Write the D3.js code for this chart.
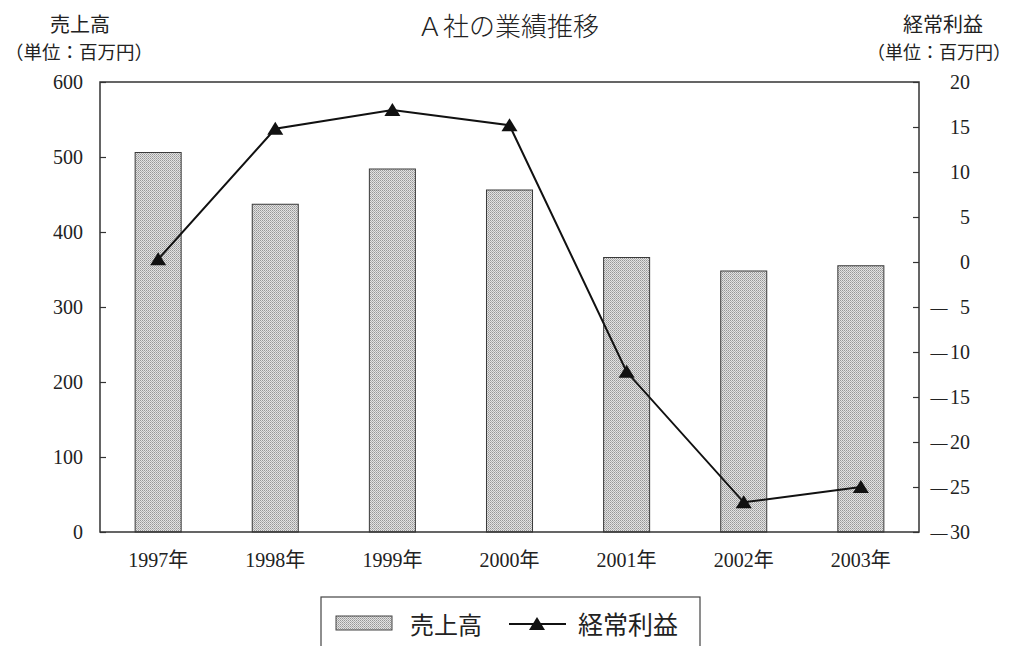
<!DOCTYPE html>
<html>
<head>
<meta charset="utf-8">
<script src="https://cdn.jsdelivr.net/npm/d3@7"></script>
<style>
  html, body { margin: 0; padding: 0; background: #fff; }
  svg text { fill: #222; }
</style>
</head>
<body>
<svg id="chart" width="1015" height="646"></svg>
<script>
// Ａ社の売上高（棒）と経常利益（折れ線）, 1997–2003
const years = ["1997年", "1998年", "1999年", "2000年", "2001年", "2002年", "2003年"];
const sales = [506, 437, 484, 456, 366, 348, 355];          // 売上高（百万円）
const profit = [0.3, 14.8, 16.9, 15.2, -12.2, -26.7, -25.0]; // 経常利益（百万円）
const salesTicks = [0, 100, 200, 300, 400, 500, 600];
const profitTicks = [20, 15, 10, 5, 0, -5, -10, -15, -20, -25, -30];

const serif = "'Liberation Serif', 'Noto Sans CJK JP', serif";
const jp = "'Noto Sans CJK JP', 'Liberation Serif', sans-serif";

const svg = d3.select("#chart");
const plot = { left: 100, right: 919, top: 82, bottom: 532 };

// stippled fill for the bars
const defs = svg.append("defs");
const pat = defs.append("pattern")
  .attr("id", "stipple").attr("patternUnits", "userSpaceOnUse")
  .attr("width", 2).attr("height", 2);
pat.append("rect").attr("width", 2).attr("height", 2).attr("fill", "#e2e2e2");
pat.append("rect").attr("width", 1).attr("height", 1).attr("fill", "#969696");
pat.append("rect").attr("x", 1).attr("y", 1).attr("width", 1).attr("height", 1).attr("fill", "#b0b0b0");

const x = d3.scaleBand().domain(years)
  .range([plot.left, plot.right]).paddingInner(0.607).paddingOuter(0.3);
const yL = d3.scaleLinear().domain([0, 600]).range([plot.bottom, plot.top]);
const yR = d3.scaleLinear().domain([-30, 20]).range([plot.bottom, plot.top]);

// bars
svg.append("g").selectAll("rect").data(sales).join("rect")
  .attr("x", (d, i) => x(years[i]))
  .attr("y", d => yL(d))
  .attr("width", x.bandwidth())
  .attr("height", d => yL(0) - yL(d))
  .attr("fill", "url(#stipple)")
  .attr("stroke", "#3a3a3a").attr("stroke-width", 1);

// plot frame: left, bottom and right axis lines
const frame = svg.append("g").attr("stroke", "#333").attr("stroke-width", 1.5).attr("fill", "none");
frame.append("path").attr("d",
  `M${plot.left},${plot.top}H${plot.right}V${plot.bottom}H${plot.left}Z`);

// left axis (ticks inside)
const axL = d3.axisRight(yL).tickValues(salesTicks).tickSize(6).tickFormat("");
svg.append("g").attr("transform", `translate(${plot.left},0)`).call(axL)
  .call(g => g.select(".domain").remove())
  .selectAll("line").attr("stroke", "#333").attr("stroke-width", 1.2);
svg.append("g").selectAll("text").data(salesTicks).join("text")
  .attr("x", 83).attr("y", d => yL(d)).attr("dy", "0.35em")
  .attr("text-anchor", "end").attr("font-family", serif).attr("font-size", 20)
  .text(d => d);

// right axis (ticks inside)
const axR = d3.axisLeft(yR).tickValues(profitTicks).tickSize(6).tickFormat("");
svg.append("g").attr("transform", `translate(${plot.right},0)`).call(axR)
  .call(g => g.select(".domain").remove())
  .selectAll("line").attr("stroke", "#333").attr("stroke-width", 1.2);
const rLab = svg.append("g").selectAll("g").data(profitTicks).join("g")
  .attr("transform", d => `translate(0,${yR(d)})`);
rLab.append("text")
  .attr("x", 970).attr("dy", "0.35em").attr("text-anchor", "end")
  .attr("font-family", serif).attr("font-size", 20)
  .text(d => Math.abs(d));
rLab.filter(d => d < 0).append("text")
  .attr("x", 939).attr("dy", "0.35em").attr("text-anchor", "middle")
  .attr("font-family", serif).attr("font-size", 17)
  .text("—");

// category labels
svg.append("g").selectAll("text").data(years).join("text")
  .attr("x", d => x(d) + x.bandwidth() / 2).attr("y", 567)
  .attr("text-anchor", "middle").attr("font-family", serif).attr("font-size", 20)
  .text(d => d);

// profit line with triangle markers
const cx = (d, i) => x(years[i]) + x.bandwidth() / 2;
svg.append("path").datum(profit)
  .attr("d", d3.line().x(cx).y(d => yR(d)))
  .attr("fill", "none").attr("stroke", "#111").attr("stroke-width", 2);
const tri = "M0,-7L8,6L-8,6Z";
svg.append("g").selectAll("path").data(profit).join("path")
  .attr("transform", (d, i) => `translate(${cx(d, i)},${yR(d)})`)
  .attr("d", tri).attr("fill", "#111");

// titles
svg.append("text").attr("x", 508).attr("y", 36).attr("text-anchor", "middle")
  .attr("font-family", jp).attr("font-size", 26).attr("font-weight", 300)
  .text("Ａ社の業績推移");
svg.append("text").attr("x", 80).attr("y", 32).attr("text-anchor", "middle")
  .attr("font-family", jp).attr("font-size", 20).text("売上高");
svg.append("text").attr("x", 79).attr("y", 59).attr("text-anchor", "middle")
  .attr("font-family", jp).attr("font-size", 18.5).text("（単位：百万円）");
svg.append("text").attr("x", 943).attr("y", 32).attr("text-anchor", "middle")
  .attr("font-family", jp).attr("font-size", 20).text("経常利益");
svg.append("text").attr("x", 939).attr("y", 59).attr("text-anchor", "middle")
  .attr("font-family", jp).attr("font-size", 18).text("（単位：百万円）");

// legend
const lg = svg.append("g");
lg.append("rect").attr("x", 321).attr("y", 597).attr("width", 379).attr("height", 60)
  .attr("fill", "#fff").attr("stroke", "#444").attr("stroke-width", 1.2);
lg.append("rect").attr("x", 336).attr("y", 616).attr("width", 56).attr("height", 14)
  .attr("fill", "url(#stipple)").attr("stroke", "#444").attr("stroke-width", 1);
lg.append("text").attr("x", 410).attr("y", 634).attr("font-family", jp).attr("font-size", 24)
  .text("売上高");
lg.append("line").attr("x1", 509).attr("x2", 566).attr("y1", 624).attr("y2", 624)
  .attr("stroke", "#111").attr("stroke-width", 2);
lg.append("path").attr("transform", "translate(537,624)").attr("d", tri).attr("fill", "#111");
lg.append("text").attr("x", 578).attr("y", 634).attr("font-family", jp).attr("font-size", 25)
  .text("経常利益");
</script>
</body>
</html>
